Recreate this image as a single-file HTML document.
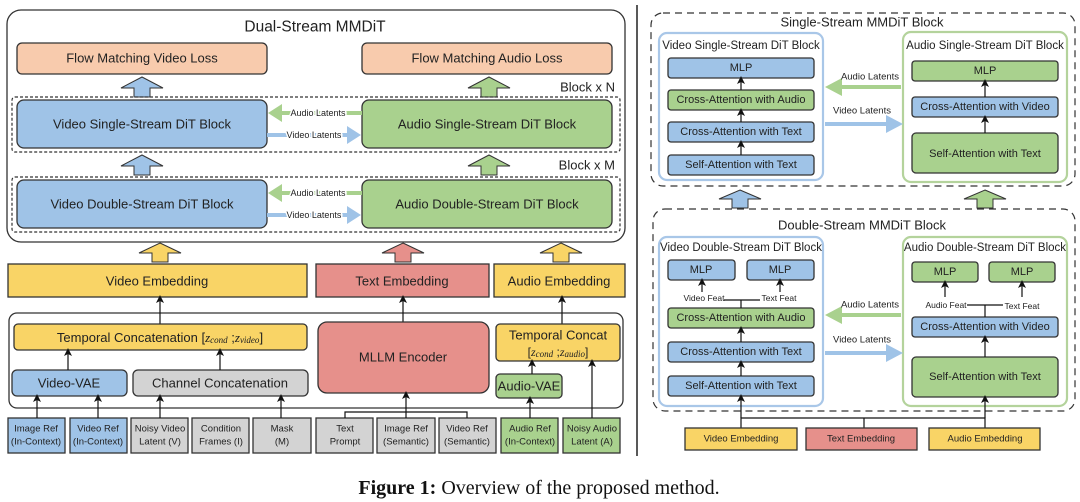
<!DOCTYPE html>
<html><head><meta charset="utf-8"><style>
html,body{margin:0;padding:0;background:#fff;}
svg{display:block;font-family:"Liberation Sans",sans-serif;}
</style></head><body>
<svg width="1080" height="502" viewBox="0 0 1080 502" xmlns="http://www.w3.org/2000/svg">
<defs>
<marker id="ah" markerWidth="8" markerHeight="8" refX="4" refY="4" orient="auto" markerUnits="userSpaceOnUse"><path d="M0,0 L8,4 L0,8 L2,4 z" fill="#111"/></marker>
</defs>
<style>
.b{stroke:#333;stroke-width:1.3}
.bl{fill:#9fc3e7}.gr{fill:#a9d18e}.ye{fill:#f9d466}.pe{fill:#f8cbad}.re{fill:#e6908b}.gy{fill:#d3d3d3}
.t{fill:#222;text-anchor:middle;dominant-baseline:central}
.ln{stroke:#111;stroke-width:1.2;fill:none}
.lab{paint-order:stroke;stroke:#fff;stroke-width:3px}
</style>

<!-- LEFT: Dual-Stream -->
<rect x="7" y="10" width="618" height="232" rx="14" fill="#fff" stroke="#333" stroke-width="1.3"/>
<text x="315" y="27" class="t" font-size="15.5">Dual-Stream MMDiT</text>
<rect x="17" y="43" width="250" height="31" rx="5" class="pe b"/>
<text x="142" y="58" class="t" font-size="13">Flow Matching Video Loss</text>
<rect x="362" y="43" width="250" height="31" rx="5" class="pe b"/>
<text x="487" y="58" class="t" font-size="13">Flow Matching Audio Loss</text>

<g stroke="#333" stroke-width="1">
<polygon points="142,77 163,88 150,88 150,97 134,97 134,88 121,88" fill="#9fc3e7"/>
<polygon points="489,77 510,88 497,88 497,97 481,97 481,88 468,88" fill="#a9d18e"/>
<polygon points="142,155 163,166 150,166 150,175 134,175 134,166 121,166" fill="#9fc3e7"/>
<polygon points="489,155 510,166 497,166 497,175 481,175 481,166 468,166" fill="#a9d18e"/>
<polygon points="160,243 181,253 168,253 168,262 152,262 152,253 139,253" fill="#f9d466"/>
<polygon points="403,243 424,253 411,253 411,262 395,262 395,253 382,253" fill="#e6908b"/>
<polygon points="561,243 582,253 569,253 569,262 553,262 553,253 540,253" fill="#f9d466"/>
<polygon points="740,190 761,199 748,199 748,208 732,208 732,199 719,199" fill="#9fc3e7"/>
<polygon points="985,190 1006,199 993,199 993,208 977,208 977,199 964,199" fill="#a9d18e"/>
</g>
<text x="615" y="87" font-size="13" text-anchor="end" dominant-baseline="central" fill="#222">Block x N</text>
<text x="615" y="165" font-size="13" text-anchor="end" dominant-baseline="central" fill="#222">Block x M</text>

<rect x="12" y="97" width="608" height="55" rx="3" fill="none" stroke="#333" stroke-width="1.2" stroke-dasharray="3,2"/>
<rect x="12" y="177" width="608" height="55" rx="3" fill="none" stroke="#333" stroke-width="1.2" stroke-dasharray="3,2"/>

<rect x="17" y="100" width="250" height="48" rx="7" class="bl b"/>
<text x="142" y="124" class="t" font-size="13">Video Single-Stream DiT Block</text>
<rect x="362" y="100" width="250" height="48" rx="7" class="gr b"/>
<text x="487" y="124" class="t" font-size="13">Audio Single-Stream DiT Block</text>
<rect x="17" y="180" width="250" height="48" rx="7" class="bl b"/>
<text x="142" y="204" class="t" font-size="13">Video Double-Stream DiT Block</text>
<rect x="362" y="180" width="250" height="48" rx="7" class="gr b"/>
<text x="487" y="204" class="t" font-size="13">Audio Double-Stream DiT Block</text>

<g>
<line x1="362" y1="113" x2="278" y2="113" stroke="#a9d18e" stroke-width="4"/>
<polygon points="268,113 282,104 282,122" fill="#a9d18e"/>
<line x1="267" y1="135" x2="350" y2="135" stroke="#9fc3e7" stroke-width="4"/>
<polygon points="361,135 347,126 347,144" fill="#9fc3e7"/>
<line x1="362" y1="193" x2="278" y2="193" stroke="#a9d18e" stroke-width="4"/>
<polygon points="268,193 282,184 282,202" fill="#a9d18e"/>
<line x1="267" y1="215" x2="350" y2="215" stroke="#9fc3e7" stroke-width="4"/>
<polygon points="361,215 347,206 347,224" fill="#9fc3e7"/>
</g>
<g font-size="9" fill="#222" text-anchor="middle" dominant-baseline="central">
<text x="318" y="113" class="lab">Audio Latents</text>
<text x="314" y="135" class="lab">Video Latents</text>
<text x="318" y="193" class="lab">Audio Latents</text>
<text x="314" y="215" class="lab">Video Latents</text>
</g>

<rect x="8" y="264" width="299" height="33" class="ye b"/>
<text x="157" y="281" class="t" font-size="13">Video Embedding</text>
<rect x="316" y="264" width="173" height="33" class="re b"/>
<text x="402" y="281" class="t" font-size="13">Text Embedding</text>
<rect x="494" y="264" width="131" height="33" class="ye b"/>
<text x="559" y="281" class="t" font-size="13">Audio Embedding</text>

<rect x="9" y="313" width="614" height="95" rx="8" fill="#fff" stroke="#333" stroke-width="1.3"/>
<line x1="160" y1="324" x2="160" y2="299" class="ln" marker-end="url(#ah)"/>
<line x1="403" y1="322" x2="403" y2="299" class="ln" marker-end="url(#ah)"/>
<line x1="562" y1="324" x2="562" y2="299" class="ln" marker-end="url(#ah)"/>

<rect x="14" y="324" width="293" height="26" rx="4" class="ye b"/>
<text x="160" y="342" text-anchor="middle" fill="#222" font-size="13">Temporal Concatenation [<tspan font-family="Liberation Serif,serif" font-style="italic">z</tspan><tspan font-family="Liberation Serif,serif" font-style="italic" font-size="9" dy="1">cond</tspan><tspan dy="-1"> ;</tspan><tspan font-family="Liberation Serif,serif" font-style="italic">z</tspan><tspan font-family="Liberation Serif,serif" font-style="italic" font-size="9" dy="1">video</tspan><tspan dy="-1">]</tspan></text>
<rect x="12" y="370" width="115" height="26" rx="5" class="bl b"/>
<text x="69" y="383" class="t" font-size="13">Video-VAE</text>
<rect x="133" y="370" width="175" height="26" rx="5" class="gy b"/>
<text x="220" y="383" class="t" font-size="13">Channel Concatenation</text>
<rect x="318" y="322" width="171" height="71" rx="9" class="re b"/>
<text x="403" y="357" class="t" font-size="13">MLLM Encoder</text>
<rect x="496" y="324" width="124" height="37" rx="4" class="ye b"/>
<text x="558" y="335" class="t" font-size="13">Temporal Concat</text>
<text x="558" y="356" text-anchor="middle" fill="#222" font-size="12">[<tspan font-family="Liberation Serif,serif" font-style="italic">z</tspan><tspan font-family="Liberation Serif,serif" font-style="italic" font-size="9" dy="1">cond</tspan><tspan dy="-1"> ;</tspan><tspan font-family="Liberation Serif,serif" font-style="italic">z</tspan><tspan font-family="Liberation Serif,serif" font-style="italic" font-size="9" dy="1">audio</tspan><tspan dy="-1">]</tspan></text>
<rect x="496" y="374" width="66" height="24" rx="4" class="gr b"/>
<text x="529" y="386" class="t" font-size="13">Audio-VAE</text>

<line x1="68" y1="370" x2="68" y2="352" class="ln" marker-end="url(#ah)"/>
<line x1="220" y1="370" x2="220" y2="352" class="ln" marker-end="url(#ah)"/>
<line x1="532" y1="374" x2="532" y2="363" class="ln" marker-end="url(#ah)"/>

<g font-size="9.5">
<rect x="8" y="418" width="57" height="35" class="bl b"/><text x="36" y="429" class="t">Image Ref</text><text x="36" y="442" class="t">(In-Context)</text>
<rect x="70" y="418" width="57" height="35" class="bl b"/><text x="98" y="429" class="t">Video Ref</text><text x="98" y="442" class="t">(In-Context)</text>
<rect x="131" y="418" width="57" height="35" class="gy b"/><text x="160" y="429" class="t">Noisy Video</text><text x="160" y="442" class="t">Latent (V)</text>
<rect x="192" y="418" width="57" height="35" class="gy b"/><text x="221" y="429" class="t">Condition</text><text x="221" y="442" class="t">Frames (I)</text>
<rect x="253" y="418" width="58" height="35" class="gy b"/><text x="282" y="429" class="t">Mask</text><text x="282" y="442" class="t">(M)</text>
<rect x="316" y="418" width="57" height="35" class="gy b"/><text x="345" y="429" class="t">Text</text><text x="345" y="442" class="t">Prompt</text>
<rect x="377" y="418" width="58" height="35" class="gy b"/><text x="406" y="429" class="t">Image Ref</text><text x="406" y="442" class="t">(Semantic)</text>
<rect x="439" y="418" width="57" height="35" class="gy b"/><text x="467" y="429" class="t">Video Ref</text><text x="467" y="442" class="t">(Semantic)</text>
<rect x="501" y="418" width="57" height="35" class="gr b"/><text x="530" y="429" class="t">Audio Ref</text><text x="530" y="442" class="t">(In-Context)</text>
<rect x="563" y="418" width="57" height="35" class="gr b"/><text x="592" y="429" class="t">Noisy Audio</text><text x="592" y="442" class="t">Latent (A)</text>
</g>
<line x1="37" y1="418" x2="37" y2="398" class="ln" marker-end="url(#ah)"/>
<line x1="98" y1="418" x2="98" y2="398" class="ln" marker-end="url(#ah)"/>
<line x1="160" y1="418" x2="160" y2="398" class="ln" marker-end="url(#ah)"/>
<line x1="281" y1="418" x2="281" y2="398" class="ln" marker-end="url(#ah)"/>
<polyline points="345,418 345,412 467,412 467,418" class="ln"/>
<line x1="406" y1="418" x2="406" y2="395" class="ln" marker-end="url(#ah)"/>
<line x1="530" y1="418" x2="530" y2="400" class="ln" marker-end="url(#ah)"/>
<line x1="592" y1="418" x2="592" y2="363" class="ln" marker-end="url(#ah)"/>

<line x1="637" y1="5" x2="637" y2="456" stroke="#222" stroke-width="1.5"/>

<rect x="651" y="13" width="424" height="173" rx="12" fill="none" stroke="#333" stroke-width="1.2" stroke-dasharray="7,5"/>
<text x="862" y="22" class="t" font-size="13">Single-Stream MMDiT Block</text>
<rect x="659" y="33" width="164" height="147" rx="8" fill="#fff" stroke="#a9c7e8" stroke-width="2.2"/>
<text x="741" y="46" class="t" font-size="11.5">Video Single-Stream DiT Block</text>
<g font-size="11">
<rect x="668" y="58" width="146" height="20" rx="3" class="bl b"/><text x="741" y="68" class="t">MLP</text>
<rect x="668" y="90" width="146" height="20" rx="3" class="gr b"/><text x="741" y="100" class="t">Cross-Attention with Audio</text>
<rect x="668" y="122" width="146" height="20" rx="3" class="bl b"/><text x="741" y="132" class="t">Cross-Attention with Text</text>
<rect x="668" y="155" width="146" height="20" rx="3" class="bl b"/><text x="741" y="165" class="t">Self-Attention with Text</text>
</g>
<line x1="741" y1="90" x2="741" y2="80" class="ln" marker-end="url(#ah)"/>
<line x1="741" y1="122" x2="741" y2="112" class="ln" marker-end="url(#ah)"/>
<line x1="741" y1="155" x2="741" y2="144" class="ln" marker-end="url(#ah)"/>

<rect x="903" y="32" width="164" height="150" rx="8" fill="#fff" stroke="#b4d39c" stroke-width="2.2"/>
<text x="985" y="46" class="t" font-size="11.5">Audio Single-Stream DiT Block</text>
<g font-size="11">
<rect x="912" y="61" width="146" height="20" rx="3" class="gr b"/><text x="985" y="71" class="t">MLP</text>
<rect x="912" y="97" width="146" height="20" rx="3" class="bl b"/><text x="985" y="107" class="t">Cross-Attention with Video</text>
<rect x="912" y="133" width="146" height="40" rx="4" class="gr b"/><text x="985" y="154" class="t">Self-Attention with Text</text>
</g>
<line x1="985" y1="97" x2="985" y2="83" class="ln" marker-end="url(#ah)"/>
<line x1="985" y1="133" x2="985" y2="119" class="ln" marker-end="url(#ah)"/>

<line x1="901" y1="87" x2="838" y2="87" stroke="#a9d18e" stroke-width="4"/>
<polygon points="825,87 842,78 842,96" fill="#a9d18e"/>
<line x1="825" y1="124" x2="888" y2="124" stroke="#9fc3e7" stroke-width="4"/>
<polygon points="903,124 886,115 886,133" fill="#9fc3e7"/>
<text x="870" y="77" class="t" font-size="9.5">Audio Latents</text>
<text x="862" y="111" class="t" font-size="9.5">Video Latents</text>

<rect x="653" y="209" width="422" height="202" rx="12" fill="none" stroke="#333" stroke-width="1.2" stroke-dasharray="7,5"/>
<text x="862" y="225" class="t" font-size="13">Double-Stream MMDiT Block</text>
<rect x="659" y="237" width="164" height="169" rx="8" fill="#fff" stroke="#a9c7e8" stroke-width="2.2"/>
<text x="741" y="248" class="t" font-size="11.5">Video Double-Stream DiT Block</text>
<g font-size="11">
<rect x="668" y="260" width="67" height="20" rx="3" class="bl b"/><text x="701" y="270" class="t">MLP</text>
<rect x="747" y="260" width="67" height="20" rx="3" class="bl b"/><text x="780" y="270" class="t">MLP</text>
<rect x="668" y="308" width="146" height="20" rx="3" class="gr b"/><text x="741" y="318" class="t">Cross-Attention with Audio</text>
<rect x="668" y="342" width="146" height="20" rx="3" class="bl b"/><text x="741" y="352" class="t">Cross-Attention with Text</text>
<rect x="668" y="376" width="146" height="20" rx="3" class="bl b"/><text x="741" y="386" class="t">Self-Attention with Text</text>
</g>
<polyline points="724,300 760,300" class="ln"/>
<line x1="741" y1="300" x2="741" y2="308" class="ln"/>
<line x1="702" y1="292" x2="702" y2="282" class="ln" marker-end="url(#ah)"/>
<line x1="780" y1="292" x2="780" y2="282" class="ln" marker-end="url(#ah)"/>
<text x="704" y="298" class="t" font-size="8.5">Video Feat</text>
<text x="779" y="298" class="t" font-size="8.5">Text Feat</text>
<line x1="741" y1="342" x2="741" y2="330" class="ln" marker-end="url(#ah)"/>
<line x1="741" y1="376" x2="741" y2="364" class="ln" marker-end="url(#ah)"/>

<rect x="903" y="237" width="164" height="169" rx="8" fill="#fff" stroke="#b4d39c" stroke-width="2.2"/>
<text x="985" y="248" class="t" font-size="11.5">Audio Double-Stream DiT Block</text>
<g font-size="11">
<rect x="912" y="262" width="66" height="20" rx="3" class="gr b"/><text x="945" y="272" class="t">MLP</text>
<rect x="989" y="262" width="66" height="20" rx="3" class="gr b"/><text x="1022" y="272" class="t">MLP</text>
<rect x="912" y="317" width="146" height="20" rx="3" class="bl b"/><text x="985" y="327" class="t">Cross-Attention with Video</text>
<rect x="912" y="357" width="146" height="40" rx="4" class="gr b"/><text x="985" y="377" class="t">Self-Attention with Text</text>
</g>
<polyline points="967,305 1003,305" class="ln"/>
<line x1="985" y1="305" x2="985" y2="317" class="ln"/>
<line x1="945" y1="297" x2="945" y2="284" class="ln" marker-end="url(#ah)"/>
<line x1="1022" y1="297" x2="1022" y2="284" class="ln" marker-end="url(#ah)"/>
<text x="946" y="305" class="t" font-size="8.5">Audio Feat</text>
<text x="1022" y="306" class="t" font-size="8.5">Text Feat</text>
<line x1="985" y1="357" x2="985" y2="339" class="ln" marker-end="url(#ah)"/>

<line x1="901" y1="315" x2="838" y2="315" stroke="#a9d18e" stroke-width="4"/>
<polygon points="825,315 842,306 842,324" fill="#a9d18e"/>
<line x1="825" y1="353" x2="888" y2="353" stroke="#9fc3e7" stroke-width="4"/>
<polygon points="903,353 886,344 886,362" fill="#9fc3e7"/>
<text x="870" y="305" class="t" font-size="9.5">Audio Latents</text>
<text x="862" y="340" class="t" font-size="9.5">Video Latents</text>

<polyline points="741,428 741,418 985,418 985,428" class="ln"/>
<line x1="864" y1="428" x2="864" y2="418" class="ln"/>
<line x1="741" y1="418" x2="741" y2="398" class="ln" marker-end="url(#ah)"/>
<line x1="985" y1="418" x2="985" y2="399" class="ln" marker-end="url(#ah)"/>
<g font-size="9.5">
<rect x="685" y="428" width="112" height="22" class="ye b"/><text x="741" y="439" class="t">Video Embedding</text>
<rect x="806" y="428" width="111" height="22" class="re b"/><text x="861" y="439" class="t">Text Embedding</text>
<rect x="929" y="428" width="111" height="22" class="ye b"/><text x="985" y="439" class="t">Audio Embedding</text>
</g>

<text x="539" y="488" text-anchor="middle" dominant-baseline="central" font-family="Liberation Serif,serif" font-size="20" fill="#111"><tspan font-weight="bold">Figure 1:</tspan> Overview of the proposed method.</text>
</svg>
</body></html>
